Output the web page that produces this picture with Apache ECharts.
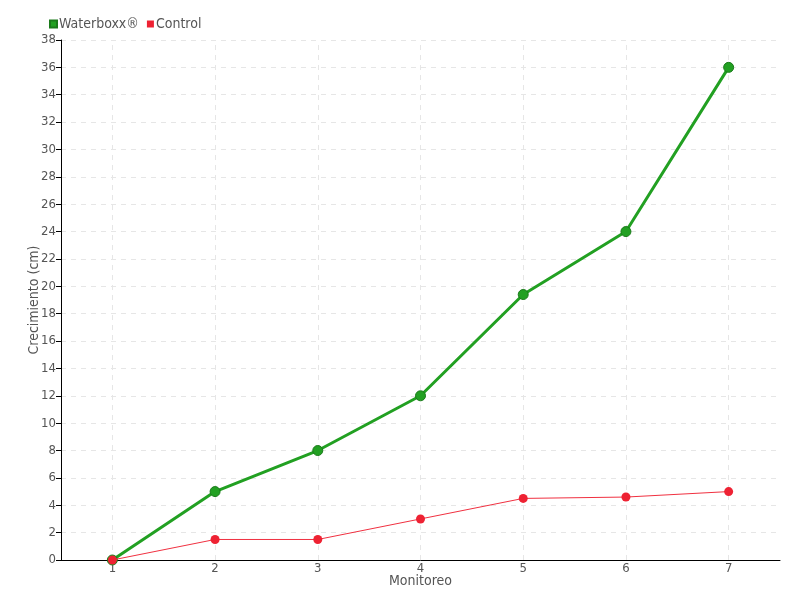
<!DOCTYPE html>
<html>
<head>
<meta charset="utf-8">
<script src="https://cdn.jsdelivr.net/npm/echarts@6/dist/echarts.min.js"></script>
<style>
  html, body { margin: 0; padding: 0; background: #fff; }
  #myChart { width: 800px; height: 600px; }
</style>
</head>
<body>
<div id="myChart"></div>
<script>
// data
var categories = ['1', '2', '3', '4', '5', '6', '7'];
var waterboxx = [0, 5, 8, 12, 19.4, 24, 36];
var control = [0, 1.5, 1.5, 3, 4.5, 4.6, 5];

var font = 'DejaVu Sans Condensed';
var myChart = echarts.init(document.getElementById('myChart'));
myChart.setOption({
  animation: false,
  textStyle: { fontFamily: font, color: '#444' },
  legend: {
    left: 44,
    top: 12,
    itemWidth: 7,
    itemHeight: 7,
    itemGap: 8,
    icon: 'rect',
    textStyle: { fontFamily: font, fontSize: 14, color: '#555', padding: [0, 0, 0, -3] },
    data: ['Waterboxx®', 'Control']
  },
  grid: { left: 61, right: 20, top: 40, bottom: 40, outerBoundsMode: 'none', containLabel: false },
  xAxis: {
    type: 'category',
    data: categories,
    boundaryGap: true,
    name: 'Monitoreo',
    nameLocation: 'middle',
    nameGap: 14,
    nameMoveOverlap: false,
    nameTextStyle: { fontFamily: font, fontSize: 14, color: '#555' },
    axisLine: { lineStyle: { color: '#000', width: 1 } },
    axisTick: { alignWithLabel: true, length: 5, lineStyle: { color: '#888' } },
    axisLabel: { fontSize: 13, color: '#555', margin: 2 },
    splitLine: { show: false }
  },
  yAxis: {
    type: 'value',
    min: 0,
    max: 38,
    interval: 2,
    name: 'Crecimiento (cm)',
    nameLocation: 'middle',
    nameGap: 20,
    nameMoveOverlap: false,
    nameTextStyle: { fontFamily: font, fontSize: 14, color: '#555' },
    axisLine: { show: true, lineStyle: { color: '#000', width: 1 } },
    axisTick: { show: true, length: 5, lineStyle: { color: '#000' } },
    axisLabel: { fontSize: 13, color: '#555', margin: 5 },
    splitLine: { lineStyle: { color: '#e6e6e6', type: [5, 5] } }
  },
  series: [
    {
      name: 'Waterboxx®',
      type: 'line',
      data: waterboxx,
      color: '#22a022',
      symbol: 'circle',
      symbolSize: 10,
      lineStyle: { width: 3, color: '#22a022' },
      itemStyle: { color: '#22a022', borderColor: '#1a7a1a', borderWidth: 1 },
      markLine: {
        silent: true,
        symbol: 'none',
        label: { show: false },
        lineStyle: { color: '#e6e6e6', type: [5, 5], width: 1 },
        data: categories.map(function (c) { return { xAxis: c }; }),
        z: 0
      },
      z: 3
    },
    {
      name: 'Control',
      type: 'line',
      data: control,
      color: '#ee2233',
      symbol: 'circle',
      symbolSize: 9,
      lineStyle: { width: 1, color: '#f03040' },
      itemStyle: { color: '#ee2233' },
      z: 4
    }
  ]
});
</script>
</body>
</html>
